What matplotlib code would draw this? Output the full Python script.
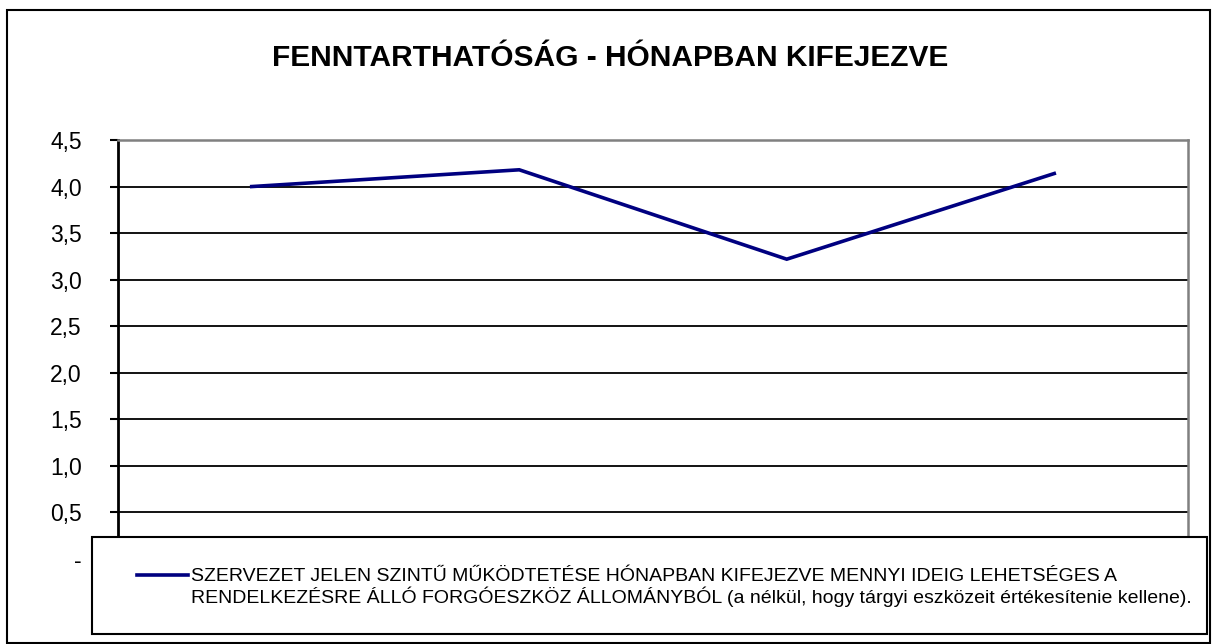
import matplotlib
matplotlib.use("Agg")
import matplotlib.pyplot as plt
from matplotlib.patches import Rectangle
from matplotlib.lines import Line2D

plt.rcParams['font.family'] = ['Liberation Sans', 'DejaVu Sans']

categories = ["1", "2", "3", "4"]
values = [4.0, 4.18, 3.22, 4.14]
yticks = [0, 0.5, 1.0, 1.5, 2.0, 2.5, 3.0, 3.5, 4.0, 4.5]
ytick_labels = ["-", "0,5", "1,0", "1,5", "2,0", "2,5", "3,0", "3,5", "4,0", "4,5"]
title = "FENNTARTHATÓSÁG - HÓNAPBAN KIFEJEZVE"
legend_label = ("SZERVEZET JELEN SZINTŰ MŰKÖDTETÉSE HÓNAPBAN KIFEJEZVE MENNYI IDEIG LEHETSÉGES A\n"
                "RENDELKEZÉSRE ÁLLÓ FORGÓESZKÖZ ÁLLOMÁNYBÓL (a nélkül, hogy tárgyi eszközeit értékesítenie kellene).")

W, H = 1212, 644
fig = plt.figure(figsize=(W / 100, H / 100), dpi=100)
fig.patch.set_facecolor("white")

# outer border
fig.patches.append(Rectangle((7 / W, 1 - 643 / H), (1210 - 7) / W, (643 - 10) / H,
                             transform=fig.transFigure, fill=False, edgecolor="black",
                             linewidth=1.5, zorder=10))

ax = fig.add_axes([118 / W, 1 - 559 / H, (1188 - 118) / W, (559 - 140) / H])
x = list(range(len(categories)))
ax.plot(x, values, color="#000080", linewidth=2.6, solid_joinstyle="miter", zorder=3)
ax.set_xlim(-0.5, len(categories) - 0.5)
ax.set_ylim(0, 4.5)
ax.set_yticks(yticks)
ax.set_yticklabels(ytick_labels, fontsize=16.5)
ax.set_xticks([])
ax.tick_params(axis="y", direction="out", length=6, width=1.5, color="black", pad=20)
for y in yticks[1:-1]:
    ax.axhline(y, color="black", linewidth=1.3, zorder=1)
ax.spines["left"].set_color("black")
ax.spines["left"].set_linewidth(2)
for s in ["top", "right", "bottom"]:
    ax.spines[s].set_color("#808080")
    ax.spines[s].set_linewidth(1.8)

fig.text(610 / W, 1 - 58 / H, title, ha="center", va="center", fontsize=21.5,
         fontweight="bold")

# legend box
fig.patches.append(Rectangle((92 / W, 1 - 634 / H), (1207 - 92) / W, (634 - 537) / H,
                             transform=fig.transFigure, facecolor="white", edgecolor="black",
                             linewidth=1.5, zorder=5))
fig.lines.append(Line2D([137 / W, 188 / W], [1 - 575 / H, 1 - 575 / H],
                        transform=fig.transFigure, color="#000080", linewidth=2.6, zorder=6))
fig.text(191 / W, 1 - 568 / H, legend_label, ha="left", va="top", fontsize=14,
         linespacing=1.12, zorder=6, transform=fig.transFigure)

fig.savefig("out.png", dpi=100)
